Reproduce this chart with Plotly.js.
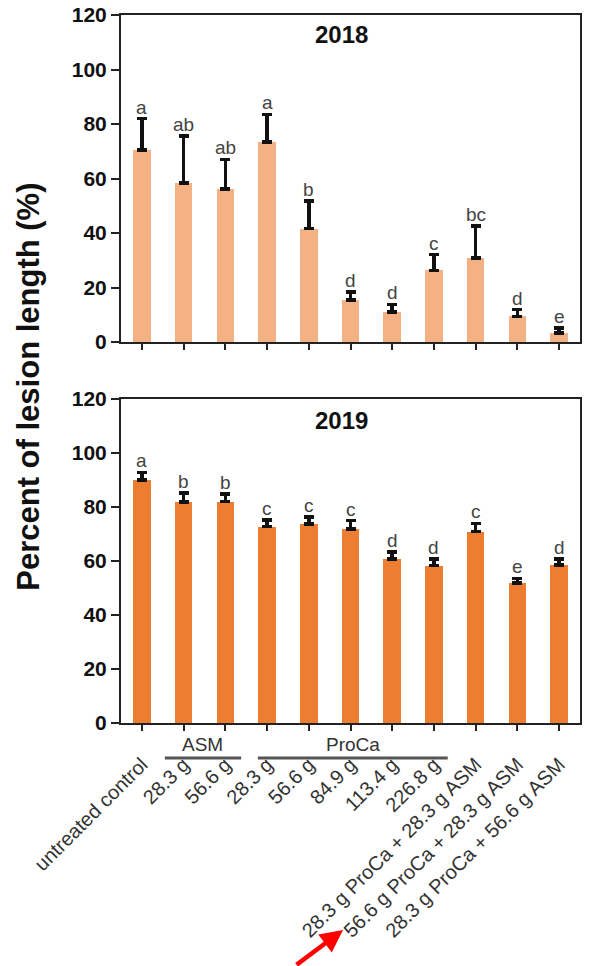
<!DOCTYPE html>
<html>
<head>
<meta charset="utf-8">
<script src="https://cdn.plot.ly/plotly-3.0.1.min.js"></script>
<style>html,body{margin:0;padding:0;background:#fff;}#chart{width:589px;height:966px;}</style>
</head>
<body>
<div id="chart"></div>
<script>
const categories = ['untreated control','28.3 g','56.6 g','28.3 g','56.6 g','84.9 g','113.4 g','226.8 g',
  '28.3 g ProCa + 28.3 g ASM','56.6 g ProCa + 28.3 g ASM','28.3 g ProCa + 56.6 g ASM'];
const y2018 = [70.4,58.4,56.1,73.4,41.6,15.5,11.0,26.3,30.8,9.4,3.3];
const err2018 = [11.6,17.2,10.9,10.1,10.2,2.9,2.8,5.8,11.7,2.5,1.8];
const letters2018 = ['a','ab','ab','a','b','d','d','c','bc','d','e'];
const y2019 = [90.0,81.8,82.0,72.7,73.7,71.9,60.7,58.3,70.9,51.8,58.6];
const err2019 = [2.8,3.3,2.8,2.5,2.6,3.1,2.6,2.4,3.0,1.8,2.2];
const letters2019 = ['a','b','b','c','c','c','d','d','c','e','d'];
const groupNames = ['ASM','ProCa'];
const groupStart = [0.55, 2.78];
const groupEnd = [2.38, 7.33];

const xIdx = categories.map((c,i)=>i);
const FONT = 'Liberation Sans, Arial, sans-serif';

const traces = [
  {type:'bar', x:xIdx, y:y2018, xaxis:'x', yaxis:'y', width:0.42,
   marker:{color:'#F4B183'},
   error_y:{type:'data', array:err2018, symmetric:false, arrayminus:err2018.map(()=>0), color:'#111', thickness:3.5, width:5}},
  {type:'bar', x:xIdx, y:y2019, xaxis:'x2', yaxis:'y2', width:0.42,
   marker:{color:'#ED7D31'},
   error_y:{type:'data', array:err2019, symmetric:false, arrayminus:err2019.map(()=>0), color:'#111', thickness:3.5, width:5}}
];

const annotations = [];
xIdx.forEach(i=>{
  annotations.push({xref:'x', yref:'y', x:i, y:y2018[i]+err2018[i], text:letters2018[i], showarrow:false,
    xanchor:'center', yanchor:'bottom', yshift:-1, font:{family:FONT, size:19, color:'#444'}});
  annotations.push({xref:'x2', yref:'y2', x:i, y:y2019[i]+err2019[i], text:letters2019[i], showarrow:false,
    xanchor:'center', yanchor:'bottom', yshift:-1, font:{family:FONT, size:19, color:'#444'}});
});
annotations.push({xref:'paper', yref:'y', x:0.48, y:113, text:'<b>2018</b>', showarrow:false,
  xanchor:'center', font:{family:FONT, size:24, color:'#111'}});
annotations.push({xref:'paper', yref:'y2', x:0.48, y:112, text:'<b>2019</b>', showarrow:false,
  xanchor:'center', font:{family:FONT, size:24, color:'#111'}});
annotations.push({xref:'paper', yref:'paper', x:-0.2004, y:0.475, text:'<b>Percent of lesion length (%)</b>',
  xanchor:'center', yanchor:'middle', textangle:-90, showarrow:false, font:{family:FONT, size:31, color:'#111'}});

const shapes = [];
groupNames.forEach((g,k)=>{
  shapes.push({type:'line', xref:'x2', yref:'paper', x0:groupStart[k], x1:groupEnd[k], y0:-0.0494, y1:-0.0494,
    line:{color:'#555', width:3}});
  annotations.push({xref:'x2', yref:'paper', x:(groupStart[k]+groupEnd[k])/2, y:-0.0297, text:g, showarrow:false,
    xanchor:'center', yanchor:'middle', font:{family:FONT, size:19, color:'#333'}});
});
annotations.push({xref:'paper', yref:'paper', x:0.4837, y:-0.2924, text:'', showarrow:true,
  ax:-48, ay:42, arrowcolor:'#FF0000', arrowwidth:4.5, arrowhead:2, arrowsize:1});

const axisCommon = {showgrid:false, zeroline:false, showline:true, linecolor:'#222', linewidth:2, mirror:true,
  ticks:'outside', tickcolor:'#222', tickwidth:2};

const layout = {
  width:589, height:966, margin:{l:121, r:9, t:15, b:243},
  paper_bgcolor:'#fff', plot_bgcolor:'#fff', showlegend:false, bargap:0,
  xaxis:Object.assign({}, axisCommon, {anchor:'y', domain:[0,1], range:[-0.5,10.5], tickvals:xIdx,
    showticklabels:false, ticklen:6}),
  yaxis:Object.assign({}, axisCommon, {domain:[0.5381,1], range:[0,120], dtick:20, ticklen:8,
    tickfont:{family:FONT, size:21, color:'#111', weight:'bold'}}),
  xaxis2:Object.assign({}, axisCommon, {anchor:'y2', domain:[0,1], range:[-0.5,10.5], tickvals:xIdx,
    ticktext:categories, tickangle:-45, ticklen:6, ticklabelstandoff:14,
    tickfont:{family:FONT, size:20, color:'#333'}}),
  yaxis2:Object.assign({}, axisCommon, {domain:[0,0.4576], range:[0,120], dtick:20, ticklen:8,
    tickfont:{family:FONT, size:21, color:'#111', weight:'bold'}}),
  annotations:annotations, shapes:shapes
};

Plotly.newPlot('chart', traces, layout, {displayModeBar:false, staticPlot:true});
</script>
</body>
</html>
